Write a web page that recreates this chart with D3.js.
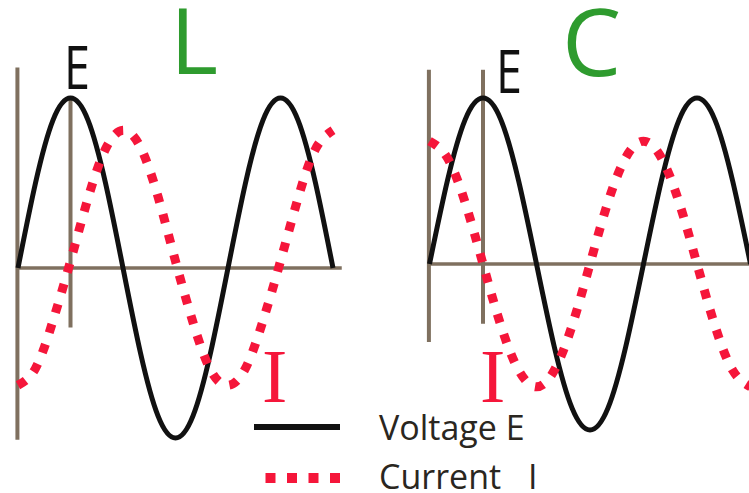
<!DOCTYPE html>
<html>
<head>
<meta charset="utf-8">
<script src="https://cdn.jsdelivr.net/npm/d3@7"></script>
<style>
  html, body { margin: 0; padding: 0; background: #fff; }
  svg { display: block; }
</style>
</head>
<body>
<svg id="chart" width="749" height="493"></svg>
<script>
// ---------- data ----------
// phase angle of the sample points, degrees
const phaseDeg = [0, 30, 60, 90, 120, 150, 180, 210, 240, 270, 300, 330, 360, 390, 420, 450, 480, 510, 540];
// inductor panel (L): voltage E and lagging current I (relative units)
const voltageL = [0, 0.5, 0.87, 1, 0.87, 0.5, 0, -0.5, -0.87, -1, -0.87, -0.5, 0, 0.5, 0.87, 1, 0.87, 0.5, 0];
const currentL = [-0.69, -0.59, -0.31, 0.04, 0.41, 0.70, 0.81, 0.71, 0.42, 0.04, -0.32, -0.60, -0.69, -0.59, -0.31, 0.04, 0.41, 0.70, 0.81];
// capacitor panel (C): voltage E and leading current I
const voltageC = [0, 0.5, 0.87, 1, 0.87, 0.5, 0, -0.5, -0.87, -1, -0.87, -0.5, 0, 0.5, 0.87, 1, 0.87, 0.5, 0];
const currentC = [0.74, 0.64, 0.37, 0, -0.37, -0.64, -0.74, -0.64, -0.37, 0, 0.37, 0.64, 0.74, 0.64, 0.37, 0, -0.37, -0.64, -0.74];
const panelTitles = ["L", "C"];
const legendLabels = ["Voltage E", "Current"];

// ---------- styles ----------
const RED = "#f5163a", GREEN = "#2e9b2e", AXIS = "#7f705f", BLACK = "#111";

const svg = d3.select("#chart");

const panels = [
  { title: panelTitles[0], volt: voltageL, curr: currentL,
    x: d3.scaleLinear().domain([0, 360]).range([18, 228]),
    y: d3.scaleLinear().domain([-1, 1]).range([438, 98]),
    axisX: [-1, 555], axisY: [-1.01, 1.18], markY: [-0.35, 1.0],
    titlePos: [170, 74], ePos: [64, 89], iPos: [262, 402] },
  { title: panelTitles[1], volt: voltageC, curr: currentC,
    x: d3.scaleLinear().domain([0, 360]).range([429.5, 643.5]),
    y: d3.scaleLinear().domain([-1, 1]).range([430, 98]),
    axisX: [-4, 560], axisY: [-0.47, 1.17], markY: [-0.36, 1.17],
    titlePos: [562, 76], ePos: [496, 93], iPos: [480, 402] }
];

panels.forEach(p => {
  const g = svg.append("g");
  // axes
  g.append("line")
    .attr("x1", p.x(p.axisX[0])).attr("x2", p.x(p.axisX[1]))
    .attr("y1", p.y(0)).attr("y2", p.y(0))
    .attr("stroke", AXIS).attr("stroke-width", 3.5);
  g.append("line")
    .attr("x1", p.x(-1)).attr("x2", p.x(-1))
    .attr("y1", p.y(p.axisY[0])).attr("y2", p.y(p.axisY[1]))
    .attr("stroke", AXIS).attr("stroke-width", 4);
  g.append("line")
    .attr("x1", p.x(90)).attr("x2", p.x(90))
    .attr("y1", p.y(p.markY[0])).attr("y2", p.y(p.markY[1]))
    .attr("stroke", AXIS).attr("stroke-width", 4);

  const line = d3.line()
    .x((d, i) => p.x(phaseDeg[i]))
    .y(d => p.y(d))
    .curve(d3.curveNatural);

  // voltage
  g.append("path").attr("d", line(p.volt))
    .attr("fill", "none").attr("stroke", BLACK).attr("stroke-width", 5)
    .attr("stroke-linejoin", "round");
  // current
  g.append("path").attr("d", line(p.curr))
    .attr("fill", "none").attr("stroke", RED).attr("stroke-width", 9)
    .attr("stroke-dasharray", "9,12");

  // labels
  g.append("text").text(p.title)
    .attr("x", p.titlePos[0]).attr("y", p.titlePos[1])
    .attr("font-family", "Open Sans").attr("font-size", p.title === "L" ? 92 : 94)
    .attr("fill", GREEN);
  g.append("text").text("E")
    .attr("x", p.ePos[0]).attr("y", p.ePos[1])
    .attr("font-family", "Open Sans").attr("font-size", 60)
    .attr("textLength", 26).attr("lengthAdjust", "spacingAndGlyphs")
    .attr("fill", BLACK);
  g.append("text").text("I")
    .attr("x", p.iPos[0]).attr("y", p.iPos[1])
    .attr("font-family", "Liberation Serif").attr("font-size", 76)
    .attr("fill", RED);
});

// legend
const leg = svg.append("g");
leg.append("line").attr("x1", 254).attr("x2", 340).attr("y1", 427).attr("y2", 427)
  .attr("stroke", BLACK).attr("stroke-width", 6);
leg.append("line").attr("x1", 340).attr("x2", 254).attr("y1", 478).attr("y2", 478)
  .attr("stroke", RED).attr("stroke-width", 10).attr("stroke-dasharray", "10,11.5");
leg.append("text").text(legendLabels[0]).attr("x", 379).attr("y", 440)
  .attr("font-family", "Open Sans").attr("font-size", 34).attr("fill", "#2a2620");
leg.append("text").text(legendLabels[1]).attr("x", 379).attr("y", 489)
  .attr("font-family", "Open Sans").attr("font-size", 34).attr("fill", "#2a2620");
leg.append("text").text("I").attr("x", 528).attr("y", 489)
  .attr("font-family", "Open Sans").attr("font-size", 34).attr("fill", "#2a2620");
</script>
</body>
</html>
